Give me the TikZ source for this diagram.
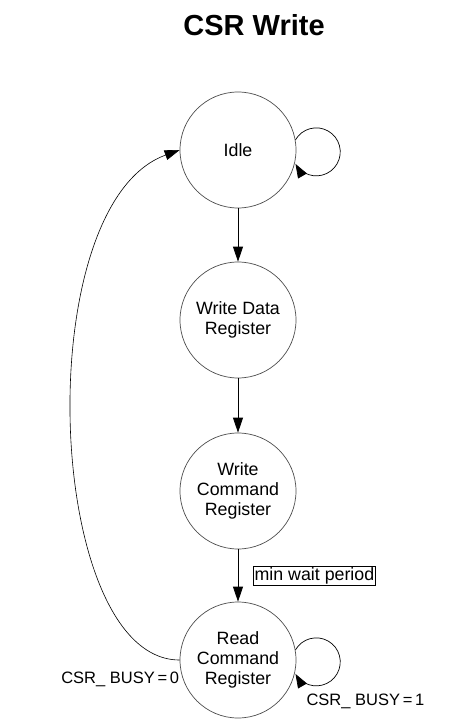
\documentclass[tikz,border=0pt]{standalone}
\usepackage{fontspec}
\setmainfont{Liberation Sans}
\usetikzlibrary{arrows.meta,positioning}
\begin{document}
\begin{tikzpicture}[x=1pt, y=1pt, >={Triangle[length=15pt,width=10pt]},
    fsm/.style={draw=black!70, line width=0.7pt, circle, minimum size=116pt, inner sep=0pt,
      align=center, font=\fontsize{17.8}{20}\selectfont},
    link/.style={->, line width=0.8pt},
    selfloop/.style={-{Triangle[length=14pt,width=10pt]}, line width=0.7pt},
    lbl/.style={font=\fontsize{16.5}{20}\selectfont}]
    \useasboundingbox (0,0) rectangle (471,-727);
    \node[font=\fontsize{29}{34}\selectfont\bfseries] (title) at (254,-25) {CSR Write};

    % states
    \node[fsm] (idle)  at (238,-150) {Idle};
    \node[fsm] (wdata) at (238,-320) {Write Data\\Register};
    \node[fsm] (wcmd)  at (238,-491) {Write\\Command\\Register};
    \node[fsm] (rcmd)  at (238,-660) {Read\\Command\\Register};

    % transitions
    \draw[link] (idle) -- (wdata);
    \draw[link] (wdata) -- (wcmd);
    \draw[link] (wcmd) -- node[font=\fontsize{17.8}{20}\selectfont, right=15pt, draw, line width=0.7pt, inner sep=1.2pt] (wait) {min wait period} (rcmd);
    \draw[link, line width=0.6pt] (rcmd.west) .. controls +(-135,0) and +(-152,-55) .. (idle.west);
    \draw[selfloop] (idle.10) arc[start angle=150, end angle=-150, radius=24];
    \draw[selfloop] (rcmd.10) arc[start angle=150, end angle=-150, radius=24];

    \node[lbl, anchor=east] (busy0) at ([xshift=3pt,yshift=-19pt]rcmd.west) {CSR\_ BUSY\,=\,0};
    \node[lbl, anchor=west] (busy1) at ([xshift=65pt,yshift=-41pt]rcmd.center) {CSR\_ BUSY\,=\,1};
\end{tikzpicture}
\end{document}
